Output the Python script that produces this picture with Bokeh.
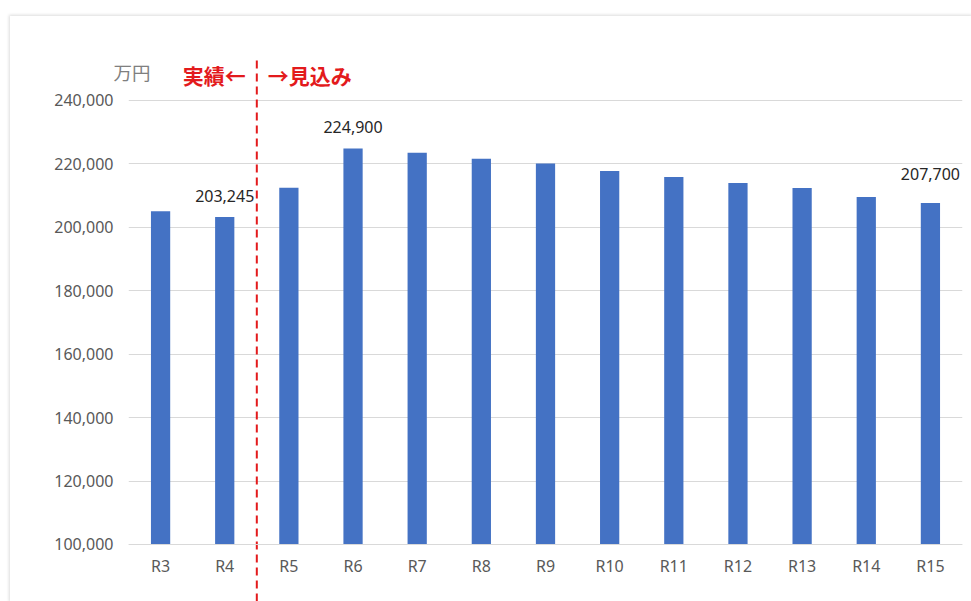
from bokeh.plotting import figure
from bokeh.models import (FactorRange, Range1d, FixedTicker, NumeralTickFormatter, Label,
                          ColumnDataSource, LinearAxis)
from bokeh.core.properties import value
from bokeh.embed import file_html
from bokeh.resources import INLINE

# ---- data ----
years = ["R3", "R4", "R5", "R6", "R7", "R8", "R9", "R10", "R11", "R12", "R13", "R14", "R15"]
costs = [205100, 203245, 212500, 224900, 223500, 221600, 220100, 217800, 215900, 214000, 212400, 209600, 207700]
label_years = ["R4", "R6", "R15"]
label_values = [203245, 224900, 207700]
y_ticks = [100000, 120000, 140000, 160000, 180000, 200000, 220000, 240000]
unit_text = "万円"
actual_text = "実績←"
forecast_text = "→見込み"

# ---- layout ----
W, H = 961, 585
Y_BOTTOM, Y_TOP = 82027, 266486
px_per_unit = 444 / 140000.0

def y_at(py):
    return Y_TOP - py / px_per_unit

p = figure(x_range=FactorRange(*years), y_range=Range1d(Y_BOTTOM, Y_TOP),
           width=W, height=H, output_backend="svg", toolbar_location=None,
           min_border_left=118, min_border_right=9, min_border_top=0, min_border_bottom=0,
           margin=(16, 0, 0, 10))
p.outline_line_color = None
p.background_fill_color = "white"
p.border_fill_color = "white"
p.styles = {"box-shadow": "0 0 3px 1px #dcdcdc"}

# y axis
p.yaxis.ticker = FixedTicker(ticks=y_ticks)
p.yaxis.formatter = NumeralTickFormatter(format="0,0")
p.yaxis.major_label_text_font = "Noto Sans"
p.yaxis.major_label_text_font_size = "16px"
p.yaxis.major_label_text_color = "#595959"
p.yaxis.major_tick_out = 0
p.yaxis.major_tick_in = 0
p.yaxis.minor_tick_out = 0
p.yaxis.minor_tick_in = 0
p.yaxis.axis_line_color = None
p.yaxis.major_label_standoff = 15

# x axis at 100,000
p.xaxis.fixed_location = 100000
p.xaxis.major_label_text_font = "Noto Sans"
p.xaxis.major_label_text_font_size = "16px"
p.xaxis.major_label_text_color = "#595959"
p.xaxis.major_tick_out = 0
p.xaxis.major_tick_in = 0
p.xaxis.axis_line_color = "#d9d9d9"
p.xaxis.major_label_standoff = 11

p.xgrid.visible = False
p.ygrid.grid_line_color = "#d9d9d9"
p.ygrid.grid_line_width = 1

# unit caption, drawn as a single-tick axis in the left panel (side panels are not clipped)
UNIT_Y = 249000
unit_axis = LinearAxis(ticker=FixedTicker(ticks=[UNIT_Y]),
                       major_label_overrides={UNIT_Y: unit_text},
                       major_label_standoff=-99,
                       axis_line_color=None, major_tick_out=0, major_tick_in=0,
                       minor_tick_out=0, minor_tick_in=0,
                       major_label_text_font="Noto Sans CJK JP",
                       major_label_text_font_size="18.5px",
                       major_label_text_color="#7f7f7f")
p.add_layout(unit_axis, "left")

src = ColumnDataSource(dict(year=years, cost=costs))
p.vbar(x="year", top="cost", bottom=100000, width=0.3, fill_color="#4472c4", line_color=None, source=src)

# data labels
lsrc = ColumnDataSource(dict(x=label_years, y=label_values,
                             t=[f"{v:,}" for v in label_values],
                             off=[-15, -15, -23]))
p.text(x="x", y="y", text="t", y_offset="off", source=lsrc,
       text_align="center", text_baseline="bottom",
       text_font=value("Noto Sans"), text_font_size="16px", text_color="#262626")

# divider between actual and forecast
p.segment(x0=2.0, x1=2.0, y0=Y_BOTTOM, y1=y_at(44), line_color="#e31a1c",
          line_width=2, line_dash="8 5")

p.add_layout(Label(x=2.0, y=y_at(58), text=actual_text, x_offset=-11,
                   text_align="right", text_baseline="middle",
                   text_font="Noto Sans CJK JP", text_font_size="21px",
                   text_font_style="bold", text_color="#e31a1c"))
p.add_layout(Label(x=2.0, y=y_at(58), text=forecast_text, x_offset=11,
                   text_align="left", text_baseline="middle",
                   text_font="Noto Sans CJK JP", text_font_size="21px",
                   text_font_style="bold", text_color="#e31a1c"))

open("out.html", "w").write(file_html(p, INLINE))
